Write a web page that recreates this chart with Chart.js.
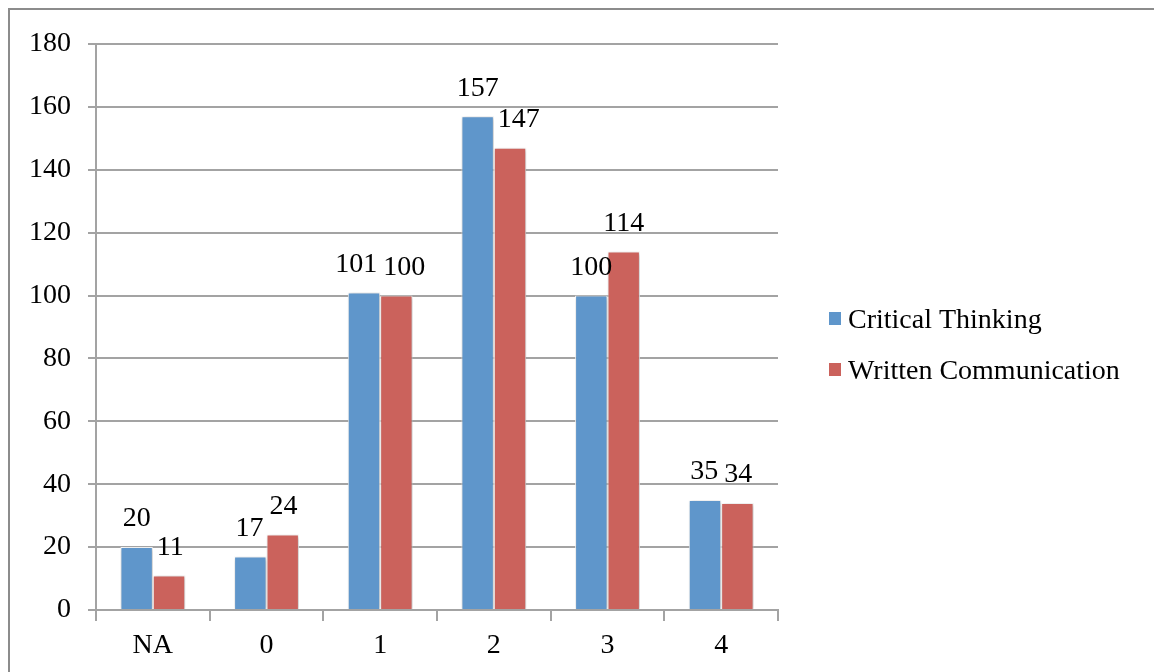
<!DOCTYPE html>
<html>
<head>
<meta charset="utf-8">
<script src="https://cdn.jsdelivr.net/npm/chart.js@4.4.1/dist/chart.umd.min.js"></script>
<style>
  html, body { margin: 0; padding: 0; background: #ffffff; }
  #wrap { width: 1154px; height: 672px; position: relative; }
</style>
</head>
<body>
<div id="wrap"><canvas id="chart" width="1154" height="672"></canvas></div>
<script>
// Score categories and counts per rubric
const categories = ['NA', '0', '1', '2', '3', '4'];
const criticalThinking = [20, 17, 101, 157, 100, 35];
const writtenCommunication = [11, 24, 100, 147, 114, 34];
const seriesNames = ['Critical Thinking', 'Written Communication'];
const yTicks = [0, 20, 40, 60, 80, 100, 120, 140, 160, 180];

const FONT = '"Liberation Serif", "DejaVu Serif", serif';
const FONT_SIZE = 28;
const BLUE = '#5f96cb';
const RED = '#cb625c';
const GRID = '#a3a3a3';

// Outer frame of the chart object
const framePlugin = {
  id: 'frame',
  beforeDraw(chart) {
    const ctx = chart.ctx;
    ctx.save();
    ctx.fillStyle = '#ffffff';
    ctx.fillRect(0, 0, chart.width, chart.height);
    ctx.strokeStyle = '#8c8c8c';
    ctx.lineWidth = 2;
    ctx.strokeRect(9, 9, chart.width + 20, chart.height + 20);
    ctx.restore();
  }
};

// Soft drop shadow under the bars
const shadowPlugin = {
  id: 'barShadow',
  beforeDatasetsDraw(chart) {
    const ctx = chart.ctx;
    ctx.save();
    ctx.shadowColor = 'rgba(0,0,0,0.28)';
    ctx.shadowBlur = 4;
    ctx.shadowOffsetX = 1;
    ctx.shadowOffsetY = 1;
  },
  afterDatasetsDraw(chart) {
    chart.ctx.restore();
  }
};

// Value labels above each bar; labels of neighbouring bars that would
// collide are pushed apart sideways, and the right-hand label steps clear
// of a taller left-hand bar.
const valueLabelPlugin = {
  id: 'valueLabels',
  afterDatasetsDraw(chart) {
    const ctx = chart.ctx;
    ctx.save();
    ctx.font = FONT_SIZE + 'px ' + FONT;
    ctx.fillStyle = '#000000';
    ctx.textAlign = 'center';
    ctx.textBaseline = 'middle';
    const rise = 28, gap = 6, lineH = FONT_SIZE * 0.8;
    const a = chart.getDatasetMeta(0).data;
    const b = chart.getDatasetMeta(1).data;
    const dsA = chart.data.datasets[0].data;
    const dsB = chart.data.datasets[1].data;
    for (let i = 0; i < a.length; i++) {
      const ta = String(dsA[i]), tb = String(dsB[i]);
      let xa = a[i].x, xb = b[i].x;
      const ya = a[i].y - rise, yb = b[i].y - rise;
      const wa = ctx.measureText(ta).width, wb = ctx.measureText(tb).width;
      const need = (wa + wb) / 2 + gap;
      if (Math.abs(ya - yb) < lineH && xb - xa < need) {
        const push = (need - (xb - xa)) / 2;
        xa -= push;
        xb += push;
      }
      const aRight = a[i].x + a[i].width / 2;
      if (a[i].y < yb + lineH / 2 && xb - wb / 2 < aRight + 4) {
        xb = aRight + 4 + wb / 2;
      }
      ctx.fillText(ta, xa, ya);
      ctx.fillText(tb, xb, yb);
    }
    ctx.restore();
  }
};

// Legend on the right side
const legendPlugin = {
  id: 'sideLegend',
  afterDraw(chart) {
    const ctx = chart.ctx;
    ctx.save();
    ctx.font = FONT_SIZE + 'px ' + FONT;
    ctx.textBaseline = 'middle';
    ctx.textAlign = 'left';
    const x0 = 829, y0 = 320, step = 51;
    chart.data.datasets.forEach((ds, di) => {
      const y = y0 + di * step;
      ctx.fillStyle = ds.backgroundColor;
      ctx.fillRect(x0, y - 8, 12, 13);
      ctx.fillStyle = '#000000';
      ctx.fillText(ds.label, x0 + 19, y + 1);
    });
    ctx.restore();
  }
};

new Chart(document.getElementById('chart'), {
  type: 'bar',
  data: {
    labels: categories,
    datasets: [
      {
        label: seriesNames[0],
        data: criticalThinking,
        backgroundColor: BLUE,
        borderColor: '#ffffff',
        borderWidth: 1,
        categoryPercentage: 0.57,
        barPercentage: 1.0
      },
      {
        label: seriesNames[1],
        data: writtenCommunication,
        backgroundColor: RED,
        borderColor: '#ffffff',
        borderWidth: 1,
        categoryPercentage: 0.57,
        barPercentage: 1.0
      }
    ]
  },
  options: {
    responsive: false,
    animation: false,
    events: [],
    layout: { padding: { left: 0, right: 376, top: 44, bottom: 0 } },
    plugins: {
      legend: { display: false },
      tooltip: { enabled: false }
    },
    scales: {
      x: {
        offset: true,
        grid: {
          offset: true,
          drawOnChartArea: false,
          drawTicks: true,
          tickLength: 11,
          color: GRID,
          lineWidth: 2
        },
        border: { display: true, color: GRID, width: 2 },
        ticks: {
          font: { family: FONT, size: FONT_SIZE },
          color: '#000000',
          padding: 8,
          maxRotation: 0
        },
        afterFit(scale) { scale.height = 62; }
      },
      y: {
        min: 0,
        max: 180,
        afterBuildTicks(scale) { scale.ticks = yTicks.map(v => ({ value: v })); },
        grid: {
          color: GRID,
          lineWidth: 2,
          drawTicks: true,
          tickLength: 8
        },
        border: { display: true, color: GRID, width: 2 },
        ticks: {
          font: { family: FONT, size: FONT_SIZE },
          color: '#000000',
          padding: 17
        },
        afterFit(scale) { scale.width = 96; }
      }
    }
  },
  plugins: [framePlugin, shadowPlugin, valueLabelPlugin, legendPlugin]
});
</script>
</body>
</html>
